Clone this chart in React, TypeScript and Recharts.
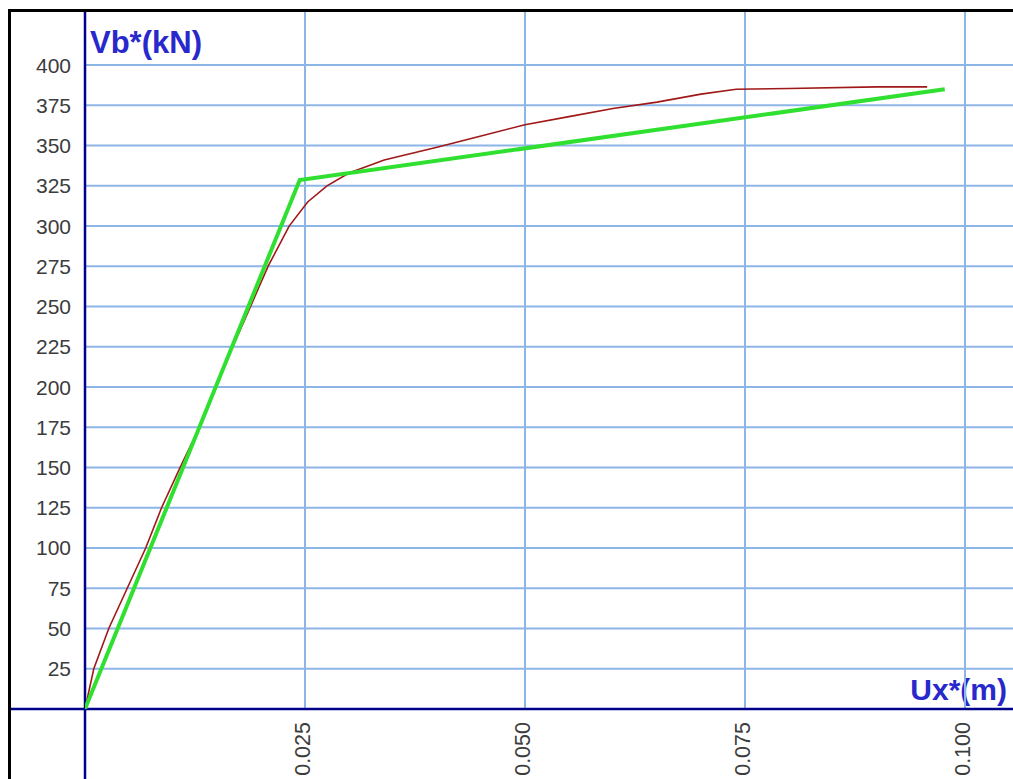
import { LineChart, Line, XAxis, YAxis, CartesianGrid, ReferenceLine } from 'recharts'

// capacity curve (red)
const curveX = [0, 0.001, 0.0027, 0.0048, 0.0069, 0.0087, 0.0108, 0.013, 0.0149, 0.0168, 0.0188, 0.0208, 0.0232, 0.0253, 0.0275, 0.03, 0.034, 0.04, 0.045, 0.05, 0.055, 0.06, 0.065, 0.07, 0.074, 0.08, 0.09, 0.0957]
const curveV = [0, 25, 50, 75, 100, 125, 150, 175, 200, 225, 250, 275, 300, 315, 325, 333, 341, 349, 356, 363, 368, 373, 377, 382, 385, 385.5, 386.5, 386.5]

// bilinear idealisation (green)
const bilinX = [0, 0.0244, 0.0977]
const bilinV = [0, 328.6, 385]

const xTicks = [0.025, 0.05, 0.075, 0.1]
const yTicks = [25, 50, 75, 100, 125, 150, 175, 200, 225, 250, 275, 300, 325, 350, 375, 400]

const curve = curveX.map((x, i) => ({ x, v: curveV[i] }))
const bilinear = bilinX.map((x, i) => ({ x, v: bilinV[i] }))

const FONT = '"Liberation Sans", Arial, sans-serif'
const NAVY = '#00008a'
const TITLE = '#2828cc'
const GRID = '#8cb6e6'
const X_MAX = 0.10716

const XTick = ({ x, y, payload }: any) => (
  <text
    x={x + 5}
    y={y}
    transform={`rotate(-90, ${x + 5}, ${y})`}
    textAnchor="end"
    fill="#3c3c3c"
    fontSize={21.5}
    fontFamily={FONT}
  >
    {payload.value.toFixed(3)}
  </text>
)

export default function App() {
  // the frame runs past the right and bottom edge of the window, like the cropped original
  return (
    <div
      style={{
        position: 'fixed',
        left: 8,
        top: 9,
        width: 1020,
        height: 790,
        overflow: 'hidden',
        boxSizing: 'border-box',
        borderTop: '3px solid #000',
        borderLeft: '3px solid #000',
        background: '#fff',
      }}
    >
      <LineChart
        width={1017}
        height={767}
        margin={{ top: 0, right: 0, left: 0, bottom: 0 }}
        accessibilityLayer={false}
        style={{ outline: 'none' }}
      >
        <CartesianGrid stroke={GRID} strokeWidth={2} vertical={false} horizontalValues={yTicks} />
        <XAxis
          type="number"
          dataKey="x"
          domain={[0, X_MAX]}
          ticks={xTicks}
          allowDataOverflow
          axisLine={false}
          tickLine={false}
          tickSize={0}
          tickMargin={13}
          height={70}
          tick={<XTick />}
        />
        <YAxis
          type="number"
          dataKey="v"
          domain={[0, 433]}
          ticks={yTicks}
          allowDataOverflow
          axisLine={false}
          tickLine={false}
          tickSize={0}
          tickMargin={14}
          width={74}
          tick={{ fill: '#3c3c3c', fontSize: 21, fontFamily: FONT }}
        />
        {xTicks.map((t) => (
          <ReferenceLine key={t} x={t} stroke={GRID} strokeWidth={2} />
        ))}
        <ReferenceLine
          segment={[{ x: -0.0085, y: 0 }, { x: X_MAX, y: 0 }]}
          stroke={NAVY}
          strokeWidth={2.5}
          ifOverflow="visible"
        />
        <ReferenceLine
          segment={[{ x: 0, y: -44 }, { x: 0, y: 433 }]}
          stroke={NAVY}
          strokeWidth={2.5}
          ifOverflow="visible"
        />
        <Line
          data={curve}
          dataKey="v"
          stroke="#a01818"
          strokeWidth={1.6}
          dot={false}
          type="linear"
          isAnimationActive={false}
        />
        <Line
          data={bilinear}
          dataKey="v"
          stroke="#30e030"
          strokeWidth={4}
          dot={false}
          type="linear"
          isAnimationActive={false}
        />
        <text x={79} y={41} fill={TITLE} fontSize={31} fontWeight="bold" fontFamily={FONT}>
          Vb*(kN)
        </text>
        <text x={996} y={688} textAnchor="end" fill={TITLE} fontSize={30} fontWeight="bold" fontFamily={FONT}>
          Ux*(m)
        </text>
      </LineChart>
    </div>
  )
}
